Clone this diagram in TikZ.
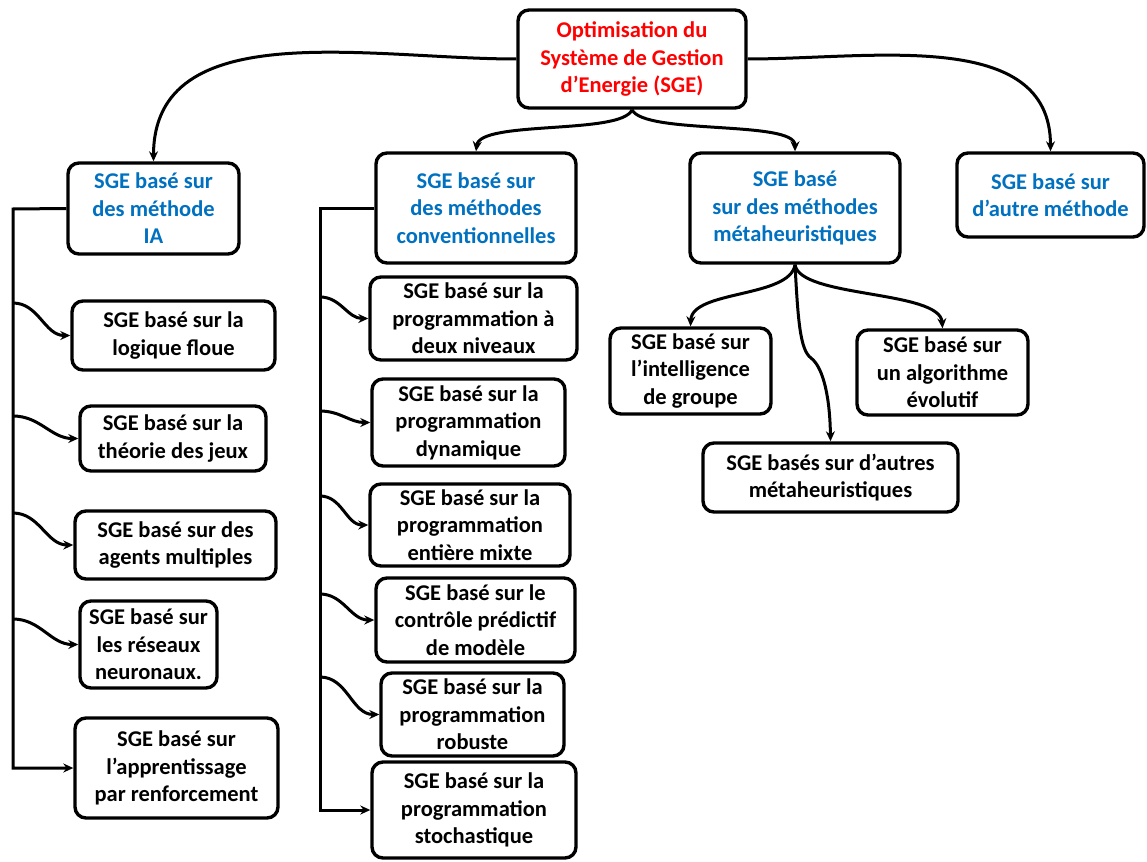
\documentclass[tikz,border=0pt]{standalone}
\usepackage{fontspec}
\setmainfont{Carlito}
\usetikzlibrary{arrows.meta}
\definecolor{topred}{RGB}{255,0,0}
\definecolor{lvlblue}{RGB}{0,112,192}
\begin{document}
\begin{tikzpicture}[x=1pt,y=-1pt,
  box/.style={draw, line width=3.4pt, rounded corners=11pt, align=center, inner sep=0pt,
    font=\fontsize{22.5}{27.5}\selectfont\bfseries},
  conn/.style={line width=3pt, -{Stealth[length=10pt,width=9pt]}},
  plain/.style={line width=3pt}]
\useasboundingbox (0,0) rectangle (1147,861);
% top
\node[box, text=topred, minimum width=228pt, minimum height=98pt] (top) at (632,59) {Optimisation du\\Système de Gestion\\d’Energie (SGE)};
% level 1
\node[box, text=lvlblue, minimum width=171pt, minimum height=91pt] (A1) at (153.5,208.5) {SGE basé sur\\des méthode\\IA};
\node[box, text=lvlblue, minimum width=200pt, minimum height=110pt] (A2) at (476,208) {SGE basé sur\\des méthodes\\conventionnelles};
\node[box, text=lvlblue, minimum width=210pt, minimum height=110pt] (A3) at (795,208) {SGE basé\\sur des méthodes\\métaheuristiques};
\node[box, text=lvlblue, minimum width=187pt, minimum height=84pt] (A4) at (1050.5,195) {SGE basé sur\\d’autre méthode};
% left column
\node[box, minimum width=203pt, minimum height=69pt] (L1) at (173.5,335.5) {SGE basé sur la\\logique floue};
\node[box, minimum width=186pt, minimum height=65pt] (L2) at (173,438.5) {SGE basé sur la\\théorie des jeux};
\node[box, minimum width=201pt, minimum height=68pt] (L3) at (175.5,545) {SGE basé sur des\\agents multiples};
\node[box, minimum width=137pt, minimum height=87pt] (L4) at (148.5,644.5) {SGE basé sur\\les réseaux\\neuronaux.};
\node[box, minimum width=203pt, minimum height=100pt] (L5) at (176.5,768) {SGE basé sur\\l’apprentissage\\par renforcement};
% middle column
\node[box, minimum width=207pt, minimum height=83pt] (C1) at (473.5,318.5) {SGE basé sur la\\programmation à\\deux niveaux};
\node[box, minimum width=193pt, minimum height=87pt] (C2) at (468.5,422.5) {SGE basé sur la\\programmation\\dynamique};
\node[box, minimum width=200pt, minimum height=82pt] (C3) at (470,525) {SGE basé sur la\\programmation\\entière mixte};
\node[box, minimum width=199pt, minimum height=84pt] (C4) at (475.5,620) {SGE basé sur le\\contrôle prédictif\\de modèle};
\node[box, minimum width=183pt, minimum height=83pt] (C5) at (472.5,714.5) {SGE basé sur la\\programmation\\robuste};
\node[box, minimum width=204pt, minimum height=96pt] (C6) at (474,810) {SGE basé sur la\\programmation\\stochastique};
% right subtree
\node[box, minimum width=161pt, minimum height=86pt] (R1) at (690.5,371) {SGE basé sur\\l’intelligence\\de groupe};
\node[box, minimum width=171pt, minimum height=85pt] (R2) at (942.5,372.5) {SGE basé sur\\un algorithme\\évolutif};
\node[box, minimum width=255pt, minimum height=69pt] (R3) at (830.5,477.5) {SGE basés sur d’autres\\métaheuristiques};
% top connectors
\draw[conn] (top.west) to[out=180,in=90] (A1.north);
\draw[conn] (top.east) to[out=0,in=90] (A4.north);
\draw[conn] (top.south) .. controls (622,135) and (480,120) .. (A2.north);
\draw[conn] (top.south) .. controls (644,135) and (795,120) .. (A3.north);
% left trunk
\coordinate (tL) at (13,209);
\draw[conn] (A1.west) -- (tL) |- (L5.west);
\coordinate (bL1) at (13,303);
\coordinate (bL2) at (13,416);
\coordinate (bL3) at (13,513);
\coordinate (bL4) at (13,619);
\draw[conn] (bL1) to[out=0,in=180] (L1.west);
\draw[conn] (bL2) to[out=0,in=180] (L2.west);
\draw[conn] (bL3) to[out=0,in=180] (L3.west);
\draw[conn] (bL4) to[out=0,in=180] (L4.west);
% middle trunk
\coordinate (tC) at (320,208);
\draw[conn] (A2.west) -- (tC) |- (C6.west);
\coordinate (bC1) at (320,297);
\coordinate (bC2) at (320,411);
\coordinate (bC3) at (320,496);
\coordinate (bC4) at (320,594);
\coordinate (bC5) at (320,677);
\draw[conn] (bC1) to[out=0,in=180] (C1.west);
\draw[conn] (bC2) to[out=0,in=180] (C2.west);
\draw[conn] (bC3) to[out=0,in=180] (C3.west);
\draw[conn] (bC4) to[out=0,in=180] (C4.west);
\draw[conn] (bC5) to[out=0,in=180] (C5.west);
% right subtree connectors
\draw[conn] (A3.south) .. controls (790,298) and (692,290) .. (R1.north);
\draw[conn] (A3.south) .. controls (800,298) and (940,290) .. (R2.north);
\coordinate (kink) at (811,358);
\draw[conn] (A3.south) .. controls (798,320) and (800,350) .. (kink) .. controls (824,368) and (830,400) .. (R3.north);
\end{tikzpicture}
\end{document}
